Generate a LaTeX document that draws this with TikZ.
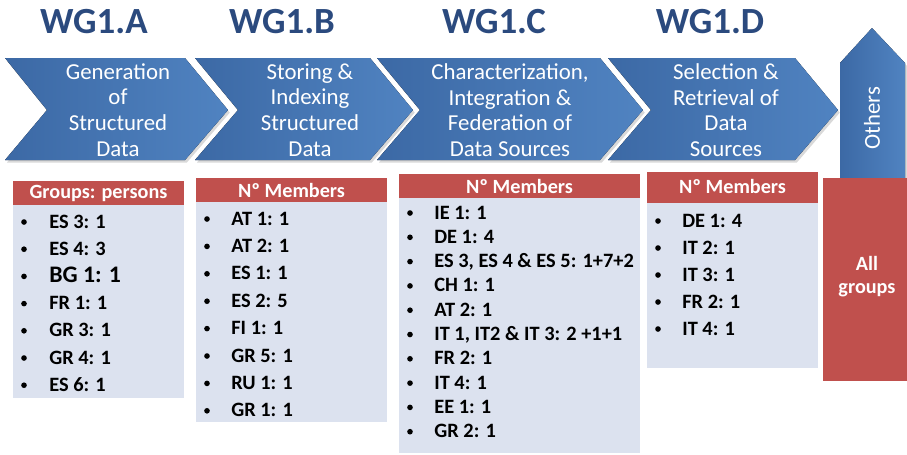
\documentclass[tikz,border=0pt]{standalone}
\usepackage{fontspec}
\setmainfont{Carlito}
\usetikzlibrary{shadows}

\definecolor{wgtitle}{HTML}{2B4A7E}
\definecolor{wgblue}{HTML}{5083C1}
\definecolor{wgbluedark}{HTML}{3C69A5}
\definecolor{wgred}{HTML}{C0504D}
\definecolor{wgbody}{HTML}{DCE2EF}

\begin{document}
\begin{tikzpicture}[x=0.02cm,y=-0.02cm]
	\tikzstyle{Chevron} = [draw=none,left color=wgbluedark,right color=wgblue,
		drop shadow={opacity=0.3,shadow xshift=1pt,shadow yshift=-1.5pt}]
	\tikzstyle{Title} = [anchor=base,text=wgtitle,font=\bfseries\fontsize{21}{24}\selectfont]
	\tikzstyle{Step} = [text=white,align=center,font=\fontsize{13}{14.6}\selectfont]
	\tikzstyle{Body} = [fill=wgbody,draw=none]
	\tikzstyle{Head} = [fill=wgred,draw=none]
	\tikzstyle{HeadText} = [text=white,font=\bfseries\fontsize{11.5}{13}\selectfont]
	\tikzstyle{Item} = [anchor=base west,inner sep=0pt,font=\bfseries\fontsize{11.6}{14}\selectfont]
	\tikzstyle{Dot} = [circle,fill=black,inner sep=0pt,minimum size=3.2pt]
	\useasboundingbox (0,0) rectangle (907,454);

	% working group titles
	\node[Title] (titleA) at (94,33) {WG1.A};
	\node[Title] (titleB) at (282,33) {WG1.B};
	\node[Title] (titleC) at (494,33) {WG1.C};
	\node[Title] (titleD) at (710,33) {WG1.D};

	% the chevrons
	\filldraw[Chevron] (5,58)--(185,58)--(228,110)--(185,160)--(5,160)--(47,110)--cycle;
	\filldraw[Chevron] (195,58)--(370,58)--(413,110)--(370,160)--(195,160)--(238,110)--cycle;
	\filldraw[Chevron] (377,58)--(600,58)--(643,110)--(600,160)--(377,160)--(420,110)--cycle;
	\filldraw[Chevron] (608,58)--(795,58)--(838,110)--(795,160)--(608,160)--(651,110)--cycle;
	\filldraw[Chevron] (840,182)--(840,63)--(872,28)--(905,63)--(905,182)--cycle;

	\node[Step] (stepA) at (118,110) {Generation\\of\\Structured\\Data};
	\node[Step] (stepB) at (310,110) {Storing \&\\Indexing\\Structured\\Data};
	\node[Step] (stepC) at (510,110) {Characterization,\\Integration \&\\Federation of\\Data Sources};
	\node[Step] (stepD) at (726,110) {Selection \&\\Retrieval of\\Data\\Sources};
	\node[Step,rotate=90] (others) at (872,118) {Others};

	% member tables
	\filldraw[Body] (13,181) rectangle (184,398);
	\filldraw[Head] (13,181) rectangle (184,205);
	\node[HeadText] (headA) at (98.5,193) {Groups: persons};
	\foreach \txt [count=\i] in {ES 3: 1, ES 4: 3, {\fontsize{13.5}{15}\selectfont BG 1: 1},
		FR 1: 1, GR 3: 1, GR 4: 1, ES 6: 1}{
		\node[Dot] (dotA\i) at (24,{222+27.2*(\i-1)}) {};
		\node[Item] (itemA\i) at (49,{228+27.2*(\i-1)}) {\txt};
	}

	\filldraw[Body] (196,178) rectangle (387,422);
	\filldraw[Head] (196,178) rectangle (387,202);
	\node[HeadText] (headB) at (291.5,190) {Nº Members};
	\foreach \txt [count=\i] in {AT 1: 1, AT 2: 1, ES 1: 1, ES 2: 5, FI 1: 1,
		GR 5: 1, RU 1: 1, GR 1: 1}{
		\node[Dot] (dotB\i) at (207,{219+27.4*(\i-1)}) {};
		\node[Item] (itemB\i) at (231,{225+27.4*(\i-1)}) {\txt};
	}

	\filldraw[Body] (399,174) rectangle (640,453);
	\filldraw[Head] (399,174) rectangle (640,198);
	\node[HeadText] (headC) at (519.5,186) {Nº Members};
	\foreach \txt [count=\i] in {IE 1: 1, DE 1: 4, {ES 3, ES 4 \& ES 5: 1+7+2}, CH 1: 1,
		AT 2: 1, {IT 1, IT2 \& IT 3: 2 +1+1}, FR 2: 1, IT 4: 1, EE 1: 1, GR 2: 1}{
		\node[Dot] (dotC\i) at (410,{213+24.3*(\i-1)}) {};
		\node[Item] (itemC\i) at (434,{219+24.3*(\i-1)}) {\txt};
	}

	\filldraw[Body] (647,172) rectangle (818,368);
	\filldraw[Head] (647,172) rectangle (818,203);
	\node[HeadText] (headD) at (732.5,186) {Nº Members};
	\foreach \txt [count=\i] in {DE 1: 4, IT 2: 1, IT 3: 1, FR 2: 1, IT 4: 1}{
		\node[Dot] (dotD\i) at (658,{221+27*(\i-1)}) {};
		\node[Item] (itemD\i) at (682,{227+27*(\i-1)}) {\txt};
	}

	% everybody else
	\filldraw[Head] (823,178) rectangle (907,381);
	\node[HeadText,align=center] (allgroups) at (867,277) {All\\groups};
\end{tikzpicture}
\end{document}
